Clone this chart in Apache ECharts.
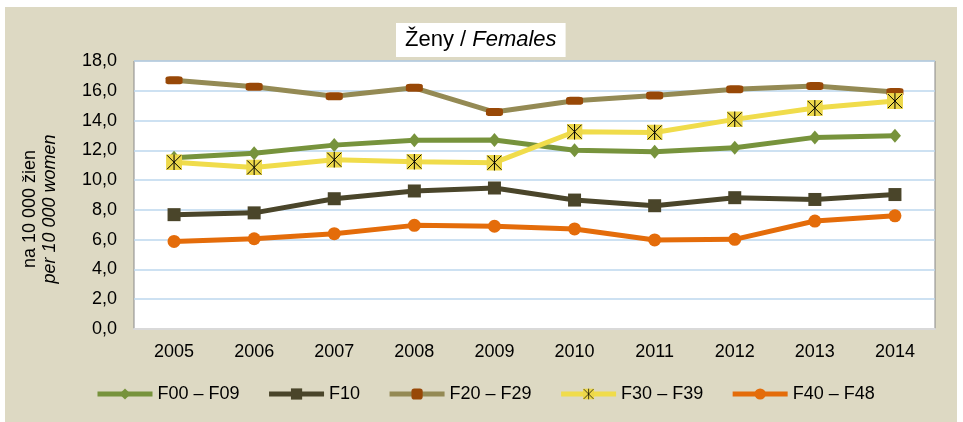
<!DOCTYPE html>
<html>
<head>
<meta charset="utf-8">
<script src="https://cdn.jsdelivr.net/npm/echarts@6/dist/echarts.min.js"></script>
<style>
  html, body { margin: 0; padding: 0; background: #fff; }
  #chart { position: absolute; left: 5px; top: 7px; width: 952px; height: 415px; }
</style>
</head>
<body>
<div id="chart"></div>
<script>
var years = ['2005', '2006', '2007', '2008', '2009', '2010', '2011', '2012', '2013', '2014'];
var f00 = [11.5, 11.8, 12.35, 12.67, 12.69, 12.0, 11.9, 12.18, 12.87, 12.98];
var f10 = [7.68, 7.8, 8.75, 9.27, 9.47, 8.66, 8.28, 8.82, 8.7, 9.03];
var f20 = [16.7, 16.27, 15.63, 16.2, 14.57, 15.33, 15.69, 16.1, 16.32, 15.92];
var f30 = [11.2, 10.85, 11.37, 11.24, 11.17, 13.25, 13.2, 14.08, 14.84, 15.31];
var f40 = [5.88, 6.06, 6.4, 6.96, 6.9, 6.72, 5.98, 6.02, 7.25, 7.6];
var names = ['F00 – F09', 'F10', 'F20 – F29', 'F30 – F39', 'F40 – F48'];

var font = 'Liberation Sans, Arial, sans-serif';

// square marker with a black asterisk
var starSvg = "<svg xmlns='http://www.w3.org/2000/svg' width='16' height='16' viewBox='0 0 16 16'>" +
  "<rect x='0' y='0' width='16' height='16' fill='#EDD84A'/>" +
  "<path d='M1 1L15 15M15 1L1 15M8 0V16' stroke='#000' stroke-width='1'/></svg>";
var starSymbol = 'image://data:image/svg+xml;charset=utf-8,' + encodeURIComponent(starSvg);

function lineSeries(name, data, color, symbol, size, symColor) {
  return {
    name: name,
    type: 'line',
    data: data,
    symbol: symbol,
    symbolSize: size,
    showAllSymbol: true,
    lineStyle: { width: 5, color: color },
    itemStyle: { color: symColor || color, borderWidth: 0 },
    emphasis: { disabled: true }
  };
}

var chart = echarts.init(document.getElementById('chart'));
var option = {
  backgroundColor: '#DDD9C3',
  animation: false,
  title: {
    text: '{n|Ženy / }{i|Females}',
    left: 391,
    top: 16,
    backgroundColor: '#fff',
    padding: [6, 9, 6, 9],
    textStyle: {
      fontWeight: 'normal',
      rich: {
        n: { fontFamily: font, fontSize: 22, fontWeight: 'normal', color: '#000' },
        i: { fontFamily: font, fontSize: 22, fontWeight: 'normal', fontStyle: 'italic', color: '#000' }
      }
    }
  },
  legend: {
    data: names,
    left: 85,
    top: 373,
    itemWidth: 55,
    itemHeight: 14,
    itemGap: 27,
    lineStyle: { width: 5 },
    textStyle: { fontFamily: font, fontSize: 18, color: '#000' }
  },
  grid: {
    left: 129,
    right: 22,
    top: 54,
    bottom: 93,
    show: true,
    backgroundColor: '#fff',
    borderColor: '#888',
    borderWidth: 1
  },
  xAxis: {
    type: 'category',
    data: years,
    boundaryGap: true,
    axisLine: { lineStyle: { color: '#D9D9D9', width: 2 } },
    axisTick: { show: false },
    axisLabel: { margin: 14, fontFamily: font, fontSize: 18, color: '#000' }
  },
  yAxis: {
    type: 'value',
    min: 0,
    max: 18,
    interval: 2,
    axisLine: { show: false },
    axisTick: { show: false },
    splitLine: { lineStyle: { color: '#BDD7EE', width: 1.5 } },
    axisLabel: {
      margin: 17,
      fontFamily: font,
      fontSize: 18,
      color: '#000',
      formatter: function (v) { return v.toFixed(1).replace('.', ','); }
    }
  },
  graphic: [{
    type: 'text',
    x: 35,
    y: 202,
    rotation: Math.PI / 2,
    style: {
      text: '{a|na 10 000 žien}\n{b|per 10 000 women}',
      align: 'center',
      verticalAlign: 'middle',
      rich: {
        a: { fontFamily: font, fontSize: 18, lineHeight: 20, color: '#000', align: 'center' },
        b: { fontFamily: font, fontSize: 18, lineHeight: 20, fontStyle: 'italic', color: '#000', align: 'center' }
      }
    }
  }],
  series: [
    lineSeries(names[0], f00, '#77933C', 'diamond', [12, 14]),
    lineSeries(names[1], f10, '#4A452A', 'rect', 13),
    lineSeries(names[2], f20, '#948A54', 'roundRect', [17, 8], '#984807'),
    lineSeries(names[3], f30, '#F0DC4B', starSymbol, 16),
    lineSeries(names[4], f40, '#E46C0A', 'circle', 13)
  ]
};
chart.setOption(option);
</script>
</body>
</html>
